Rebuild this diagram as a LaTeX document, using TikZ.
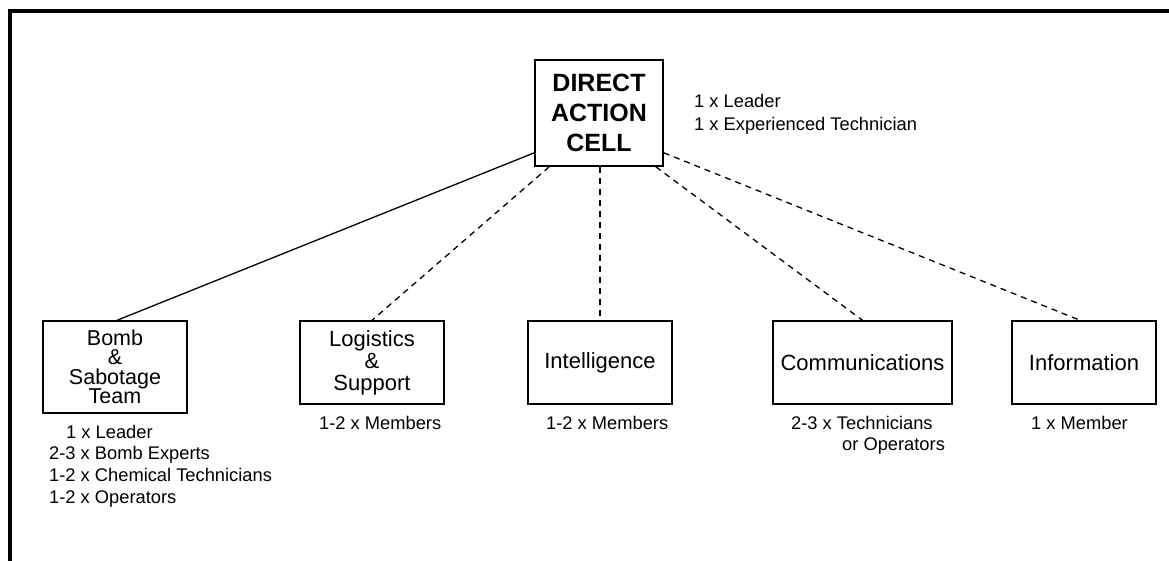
\documentclass[tikz,border=0pt]{standalone}
\usepackage{fontspec}
\setmainfont{Liberation Sans}
\usepackage{tikz}
\usetikzlibrary{positioning,calc}

\tikzset{
  cellbox/.style={draw, line width=1.6pt, inner sep=0pt, align=center,
    minimum width=128pt, minimum height=106pt,
    font=\bfseries\fontsize{25}{30}\selectfont},
  unitbox/.style={draw, line width=1.4pt, inner sep=0pt, align=center,
    minimum width=144pt, minimum height=83pt,
    font=\fontsize{22}{22}\selectfont},
  crew/.style={inner sep=0pt, anchor=base west, font=\fontsize{18.3}{22}\selectfont},
  link/.style={line width=1.3pt},
  dashlink/.style={link, dash pattern=on 6pt off 5pt}
}

\begin{document}
\begin{tikzpicture}[x=1pt,y=-1pt]
\useasboundingbox (0,0) rectangle (1169,560);
\begin{scope}
\clip (0,0) rectangle (1169,560);
% frame
\draw[line width=4pt] (10,600) -- (10,11) -- (1200,11);
\end{scope}

% the cell
\node[cellbox] (dac) at (599,113) {DIRECT\\ACTION\\CELL};
\node[crew] (dacA) at (694,107) {1 x Leader};
\node[crew] (dacB) at (694,130) {1 x Experienced Technician};

% teams
\node[unitbox, minimum height=92pt, font=\fontsize{21.5}{19.5}\selectfont] (bomb) at (115,367)
  {Bomb\\\&\\Sabotage\\Team};
\node[unitbox] (logi) at (372,362.5) {Logistics\\\&\\Support};
\node[unitbox] (intel) at (600,362.5) {Intelligence};
\node[unitbox, minimum width=179pt] (comm) at (862.5,362.5) {Communications};
\node[unitbox] (info) at (1084,362.5) {Information};

% members
\node[crew] (bombA) at (66,438) {1 x Leader};
\foreach \t [count=\i] in {2-3 x Bomb Experts,1-2 x Chemical Technicians,1-2 x Operators}
  \node[crew] (bomb\i) at (49,438+21.7*\i) {\t};
\node[crew] (logiA) at (319,429) {1-2 x Members};
\node[crew] (intelA) at (546,429) {1-2 x Members};
\node[crew] (commA) at (791,429) {2-3 x Technicians};
\node[crew] (commB) at (842,450) {or Operators};
\node[crew] (infoA) at (1031,429) {1 x Member};

% links
\draw[link] ([yshift=14pt]dac.south west) -- ([xshift=2pt]bomb.north);
\draw[dashlink] ([xshift=15pt]dac.south west) -- (logi.north);
\draw[dashlink] ([xshift=1pt]dac.south) -- (intel.north);
\draw[dashlink] ([xshift=-8pt]dac.south east) -- (comm.north);
\draw[dashlink] ([yshift=14pt]dac.south east) -- ([xshift=-4pt]info.north);
\end{tikzpicture}
\end{document}
